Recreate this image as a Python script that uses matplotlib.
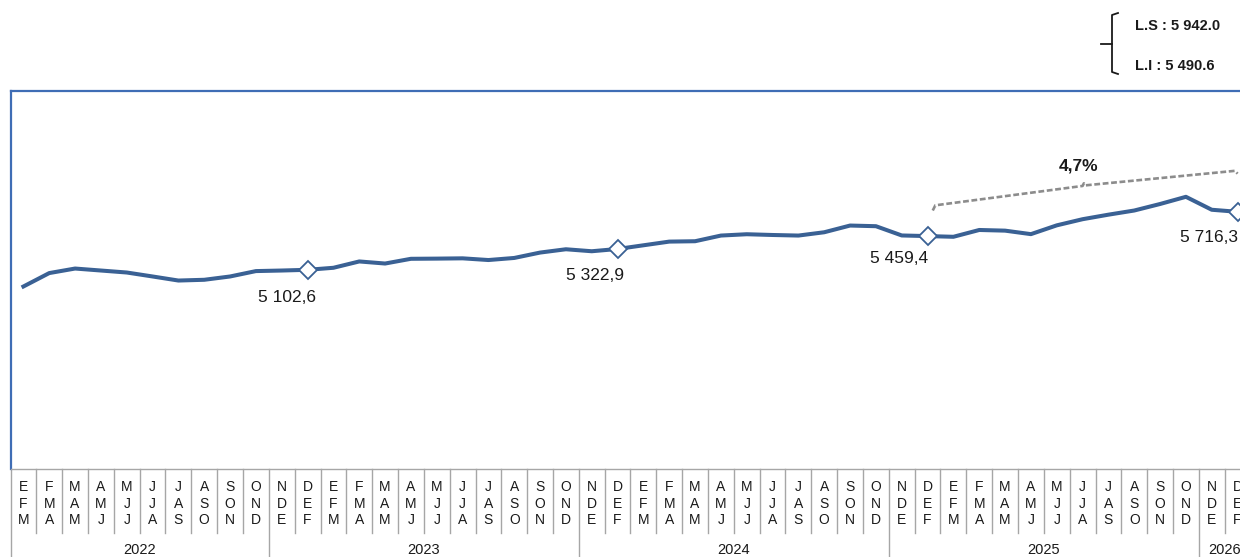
import numpy as np
import matplotlib.pyplot as plt

plt.rcParams['font.family'] = ['Liberation Sans', 'DejaVu Sans']

# rolling quarter labels (Spanish month initials), ending Mar-2022 .. Feb-2026
period_labels = [
    "EFM", "FMA", "MAM", "AMJ", "MJJ", "JJA", "JAS", "ASO", "SON", "OND",
    "NDE", "DEF", "EFM", "FMA", "MAM", "AMJ", "MJJ", "JJA", "JAS", "ASO", "SON", "OND",
    "NDE", "DEF", "EFM", "FMA", "MAM", "AMJ", "MJJ", "JJA", "JAS", "ASO", "SON", "OND",
    "NDE", "DEF", "EFM", "FMA", "MAM", "AMJ", "MJJ", "JJA", "JAS", "ASO", "SON", "OND",
    "NDE", "DEF",
]
years = ["2022", "2023", "2024", "2025", "2026"]
year_counts = [10, 12, 12, 12, 2]

values = [
    4926, 5068, 5116, 5095, 5074, 5032, 4989, 4997, 5032, 5089, 5095,
    5102.6, 5124, 5191, 5169, 5219, 5221, 5224, 5206, 5228, 5285, 5320, 5299,
    5322.9, 5362, 5401, 5405, 5465, 5479, 5471, 5465, 5500, 5571, 5564, 5466,
    5459.4, 5452, 5524, 5517, 5480, 5573, 5638, 5686, 5730, 5799, 5875, 5738,
    5716.3,
]
marked = [11, 23, 35, 47]
growth_label = "4,7%"
upper_limit = "L.S : 5 942.0"
lower_limit = "L.I : 5 490.6"

line_color = "#3A6194"
frame_color = "#3F6DB5"
grid_gray = "#A6A6A6"

fig = plt.figure(figsize=(12.4, 5.57), dpi=100)
W, H = 1240, 557
ax = fig.add_axes([10.5 / W, (H - 468.5) / H, 1240 / W, 378 / H])

x = np.arange(len(values))
ax.plot(x, values, color=line_color, lw=2.9, solid_joinstyle='round',
        marker='D', markevery=marked, markersize=9, markerfacecolor='white',
        markeredgecolor=line_color, markeredgewidth=1.3, zorder=3)

ax.set_xlim(-0.5, len(values) - 0.5)
ax.set_ylim(3000, 7000)
ax.set_xticks([])
ax.set_yticks([])
for s in ['top', 'left']:
    ax.spines[s].set_color(frame_color)
    ax.spines[s].set_linewidth(1.6)
ax.spines['right'].set_visible(False)
ax.spines['bottom'].set_color(grid_gray)
ax.spines['bottom'].set_linewidth(1)

# value labels at the DEF points
offsets = [(-21, -28), (-23, -27), (-29, -22), (-29, -26)]
for i, off in zip(marked, offsets):
    txt = f"{values[i]:,.1f}".replace(",", " ").replace(".", ",")
    ax.annotate(txt, (i, values[i]), xytext=off, textcoords='offset pixels',
                ha='center', va='center', fontsize=12.5, color='#1a1a1a')

# category axis: stacked letters and separators
tr = ax.get_xaxis_transform()
px = 1 / 378
row_y = [-(487 - 468.5) * px, -(503.5 - 468.5) * px, -(520 - 468.5) * px]
for i, lab in enumerate(period_labels):
    for ch, yy in zip(lab, row_y):
        ax.text(i, yy, ch, transform=tr, ha='center', va='center',
                fontsize=10, color='#1a1a1a', clip_on=False)

year_edges = np.cumsum([0] + year_counts) - 0.5
for b in range(len(values) + 1):
    xb = b - 0.5
    bottom = -(533 - 468.5) * px
    if np.isclose(year_edges, xb).any():
        bottom = -0.26
    ax.plot([xb, xb], [0, bottom], transform=tr, color=grid_gray, lw=1,
            clip_on=False)

for k, yr in enumerate(years):
    xc = (year_edges[k] + year_edges[k + 1]) / 2
    ax.text(xc, -(549.5 - 468.5) * px, yr, transform=tr, ha='center',
            va='center', fontsize=10.5, color='#1a1a1a', clip_on=False)

# growth bracket from DEF-2025 to DEF-2026
bx = [35.2, 35.3, 41.0, 41.05, 41.1, 46.9, 47.0]
by = [5730, 5785, 5990, 6018, 5996, 6150, 6120]
ax.plot(bx, by, color='#8C8C8C', lw=1.9, ls=(0, (2.2, 1.0)), zorder=2)
ax.text(40.85, 6200, growth_label, ha='center', va='center', fontsize=12.5,
        fontweight='bold', color='#1a1a1a')

# forecast limits with brace (figure pixel coords)
def fx(p):
    return p / W

def fy(p):
    return 1 - p / H

fig.text(fx(1135), fy(26), upper_limit, ha='left', va='center',
         fontsize=10.5, fontweight='bold', color='#1a1a1a')
fig.text(fx(1135), fy(66), lower_limit, ha='left', va='center',
         fontsize=10.5, fontweight='bold', color='#1a1a1a')
brace_x = [1118, 1112, 1112, 1118]
brace_y = [13, 15, 72, 74]
fig.add_artist(plt.Line2D([fx(v) for v in brace_x], [fy(v) for v in brace_y],
                          color='#1a1a1a', lw=1.3))
fig.add_artist(plt.Line2D([fx(1101), fx(1112)], [fy(43.5), fy(43.5)],
                          color='#1a1a1a', lw=1.3))

fig.savefig("out.png", dpi=100)
